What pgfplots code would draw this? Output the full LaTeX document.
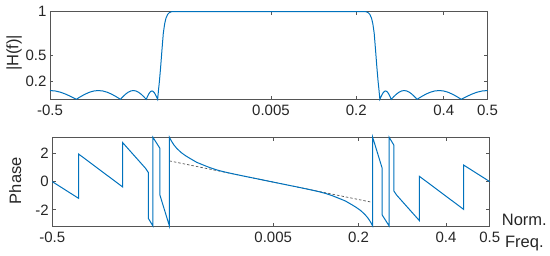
\documentclass[border=0pt]{standalone}
\usepackage{fontspec}
\setmainfont{Liberation Sans}
\usepackage{pgfplots}
\pgfplotsset{compat=1.18}
\definecolor{mblue}{RGB}{0,114,189}
\definecolor{axgray}{RGB}{85,85,85}
\definecolor{txt}{RGB}{38,38,38}

\pgfplotsset{mstyle/.style={
  scale only axis, width=437.5pt,
  xmin=-0.5, xmax=0.5,
  xtick={-0.5,0.005,0.2,0.4,0.5},
  xticklabels={-0.5,0.005,0.2,0.4,0.5},
  tick align=inside, xtick pos=both, ytick pos=both,
  major tick length=3.5pt,
  axis line style={axgray, line width=0.8pt},
  every tick/.style={axgray, line width=0.8pt},
  tick label style={font=\fontsize{15}{18}\selectfont, text=txt},
  xticklabel style={yshift=-2pt},
  label style={font=\fontsize{16.5}{22}\selectfont, text=txt},
  clip=false,
}}

\begin{document}
\begin{tikzpicture}
\path[use as bounding box] (0,0) rectangle (550pt,-255pt);

% magnitude
\begin{axis}[mstyle, at={(50pt,-99.3pt)}, anchor=south west, height=87.6pt,
  ymin=0, ymax=1, ytick={0.2,0.5,1}, yticklabels={0.2,0.5,1},
  ylabel={|H(f)|},
  ylabel style={at={(axis description cs:-0.082,0.53)}, anchor=center},
]
\addplot[mblue, line width=1pt] coordinates {
(-0.5,0.1) (-0.488,0.0951) (-0.476,0.0809) (-0.464,0.0588) (-0.452,0.0309) (-0.44,0)
(-0.4299,0.0309) (-0.4198,0.0588) (-0.4097,0.0809) (-0.3996,0.0951) (-0.3895,0.1)
(-0.3794,0.0951) (-0.3693,0.0809) (-0.3592,0.0588) (-0.3491,0.0309) (-0.339,0)
(-0.3331,0.0309) (-0.3272,0.0588) (-0.3213,0.0809) (-0.3154,0.0951) (-0.3095,0.1)
(-0.3036,0.0951) (-0.2977,0.0809) (-0.2918,0.0588) (-0.2859,0.0309) (-0.280,0)
(-0.2774,0.0294) (-0.2748,0.0559) (-0.2722,0.0769) (-0.2696,0.0904) (-0.267,0.095)
(-0.2644,0.0904) (-0.2618,0.0769) (-0.2592,0.0559) (-0.2566,0.0294) (-0.254,0)
(-0.2515,0.13) (-0.250,0.2) (-0.247,0.375) (-0.244,0.57) (-0.241,0.755) (-0.238,0.86)
(-0.235,0.925) (-0.231,0.97) (-0.227,0.99) (-0.222,1.0)
(0.222,1.0) (0.227,0.99) (0.231,0.97) (0.235,0.925) (0.238,0.86) (0.241,0.755)
(0.244,0.57) (0.247,0.375) (0.250,0.2) (0.2515,0.13) (0.254,0)
(0.2566,0.0294) (0.2592,0.0559) (0.2618,0.0769) (0.2644,0.0904) (0.267,0.095)
(0.2696,0.0904) (0.2722,0.0769) (0.2748,0.0559) (0.2774,0.0294) (0.280,0)
(0.2859,0.0309) (0.2918,0.0588) (0.2977,0.0809) (0.3036,0.0951) (0.3095,0.1)
(0.3154,0.0951) (0.3213,0.0809) (0.3272,0.0588) (0.3331,0.0309) (0.339,0)
(0.3491,0.0309) (0.3592,0.0588) (0.3693,0.0809) (0.3794,0.0951) (0.3895,0.1)
(0.3996,0.0951) (0.4097,0.0809) (0.4198,0.0588) (0.4299,0.0309) (0.44,0)
(0.452,0.0309) (0.464,0.0588) (0.476,0.0809) (0.488,0.0951) (0.5,0.1)
};
\end{axis}

% phase
\begin{axis}[mstyle, at={(52.3pt,-226pt)}, anchor=south west, height=88.7pt,
  ymin=-3.1416, ymax=3.1416, ytick={-2,0,2}, yticklabels={-2,0,2},
  ylabel={Phase},
  ylabel style={at={(axis description cs:-0.085,0.51)}, anchor=center},
  xlabel={Norm.\\Freq.},
  xlabel style={at={(axis description cs:1.079,-0.079)}, anchor=center, align=center},
]
\addplot[axgray, line width=0.7pt, dash pattern=on 2.5pt off 2pt] coordinates {
(-0.2323,1.47) (0.2323,-1.47)
};
\addplot[mblue, line width=1pt] coordinates {
(-0.5,0) (-0.44,-1.18) (-0.44,1.96) (-0.339,-0.38) (-0.339,2.76)
(-0.31,1.75) (-0.287,0.95) (-0.2805,0.65) (-0.2805,-2.6) (-0.270,-3.1416)
(-0.270,3.1416) (-0.254,2.36) (-0.254,-0.95) (-0.2323,-3.1416) (-0.2323,3.1416)
(-0.228,2.89) (-0.222,2.60) (-0.215,2.34) (-0.205,2.05) (-0.195,1.83) (-0.185,1.64)
(-0.17,1.37) (-0.155,1.18) (-0.14,0.995) (-0.125,0.84) (-0.11,0.715) (-0.09,0.574)
(-0.06,0.379) (-0.03,0.19) (0,0)
(0.03,-0.19) (0.06,-0.379) (0.09,-0.574) (0.11,-0.715) (0.125,-0.84) (0.14,-0.995)
(0.155,-1.18) (0.17,-1.37) (0.185,-1.64) (0.195,-1.83) (0.205,-2.05) (0.215,-2.34)
(0.222,-2.60) (0.228,-2.89) (0.2323,-3.1416)
(0.2323,3.1416) (0.254,0.95) (0.254,-2.36) (0.270,-3.1416) (0.270,3.1416)
(0.2805,2.6) (0.2805,-0.65) (0.287,-0.95) (0.31,-1.75) (0.339,-2.76)
(0.339,0.38) (0.44,-1.96) (0.44,1.18) (0.5,0)
};
\end{axis}
\end{tikzpicture}
\end{document}
